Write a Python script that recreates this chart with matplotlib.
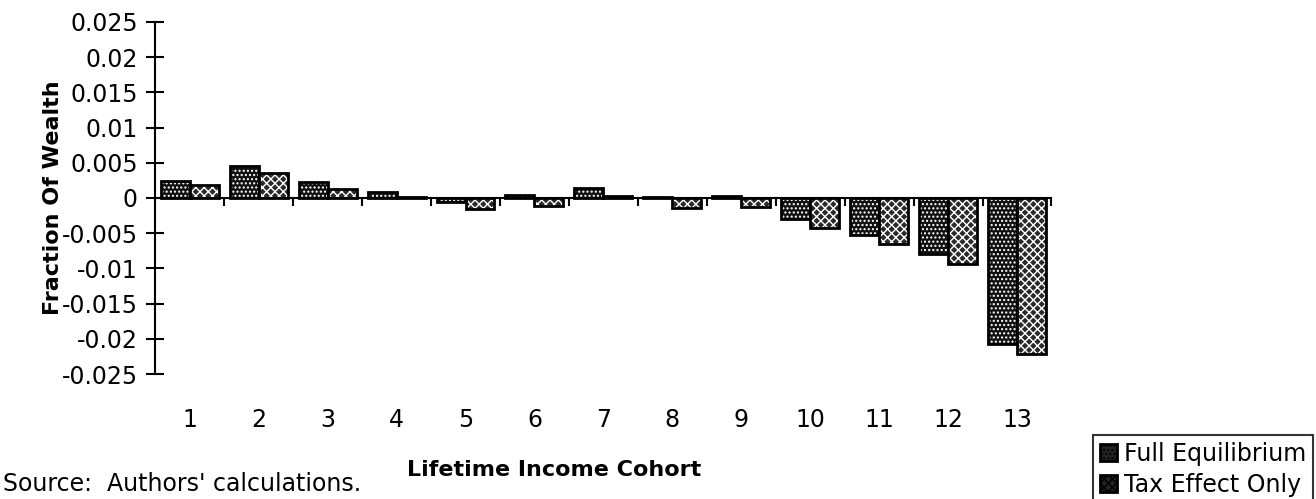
import matplotlib.pyplot as plt
import matplotlib.transforms as mtransforms
import numpy as np

# data
cohorts = [1, 2, 3, 4, 5, 6, 7, 8, 9, 10, 11, 12, 13]
full_eq = [0.0024, 0.0045, 0.0022, 0.0009, -0.0006, 0.0004, 0.0014,
           0.0002, 0.0003, -0.0030, -0.0052, -0.0080, -0.0207]
tax_only = [0.0018, 0.0036, 0.0013, 0.0002, -0.0015, -0.0012, 0.0003,
            -0.0014, -0.0013, -0.0043, -0.0066, -0.0094, -0.0222]
yticks = [0.025, 0.02, 0.015, 0.01, 0.005, 0, -0.005, -0.01, -0.015, -0.02, -0.025]
ytick_labels = ['0.025', '0.02', '0.015', '0.01', '0.005', '0', '-0.005',
                '-0.01', '-0.015', '-0.02', '-0.025']

plt.rcParams['font.family'] = ['DejaVu Sans']

fig = plt.figure(figsize=(13.16, 4.99), dpi=100)
ax = fig.add_axes([0.118, 0.2505, 0.681, 0.7055])

x = np.array(cohorts)
w = 0.42


def draw_bars(xs, vals, face, hatch, label):
    ax.bar(xs, vals, w, color=face, edgecolor='white', hatch=hatch,
           linewidth=0, align='edge')
    ax.bar(xs, vals, w, fill=False, edgecolor='black', linewidth=2,
           align='edge', label=label)


draw_bars(x - w, full_eq, '#111111', '....', 'Full Equilibrium')
draw_bars(x, tax_only, '#2a2a2a', 'xxxx', 'Tax Effect Only')

ax.set_xlim(0.5, 13.5)
ax.set_ylim(-0.025, 0.025)
ax.set_yticks(yticks)
ax.set_yticklabels(ytick_labels)
ax.tick_params(axis='y', direction='inout', length=13, width=1.5,
               labelsize=17, pad=6)

# x axis sits at zero, with ticks between cohorts
ax.spines['top'].set_visible(False)
ax.spines['right'].set_visible(False)
ax.spines['bottom'].set_position(('data', 0))
ax.spines['bottom'].set_linewidth(1.5)
ax.spines['left'].set_linewidth(1.5)
ax.set_xticks(np.arange(1.5, 14, 1))
ax.set_xticklabels([])
ax.tick_params(axis='x', direction='out', length=6, width=1.5)

trans = mtransforms.blended_transform_factory(ax.transData, ax.transAxes)
for c in cohorts:
    ax.text(c, -0.13, str(c), transform=trans, ha='center', va='center',
            fontsize=17)

ax.set_ylabel('Fraction Of Wealth', fontsize=16, fontweight='bold', labelpad=12)
ax.yaxis.set_label_coords(-0.103, 0.5)
fig.text(0.421, 0.058, 'Lifetime Income Cohort', ha='center', va='center',
         fontsize=16, fontweight='bold')
fig.text(0.002, 0.03, "Source:  Authors' calculations.", ha='left',
         va='center', fontsize=17)

leg = fig.legend(loc='lower right', bbox_to_anchor=(0.998, -0.01),
                 fontsize=17, frameon=True, fancybox=False, edgecolor='black',
                 handlelength=0.7, handleheight=0.7, handletextpad=0.3,
                 borderpad=0.3, labelspacing=0.3, borderaxespad=0)
leg.get_frame().set_linewidth(1.5)
for h, hatch in zip(leg.legend_handles, ['....', 'xxxx']):
    h.set_facecolor('#222222')
    h.set_fill(True)
    h.set_hatch(hatch)

fig.savefig('out.png', dpi=100)
